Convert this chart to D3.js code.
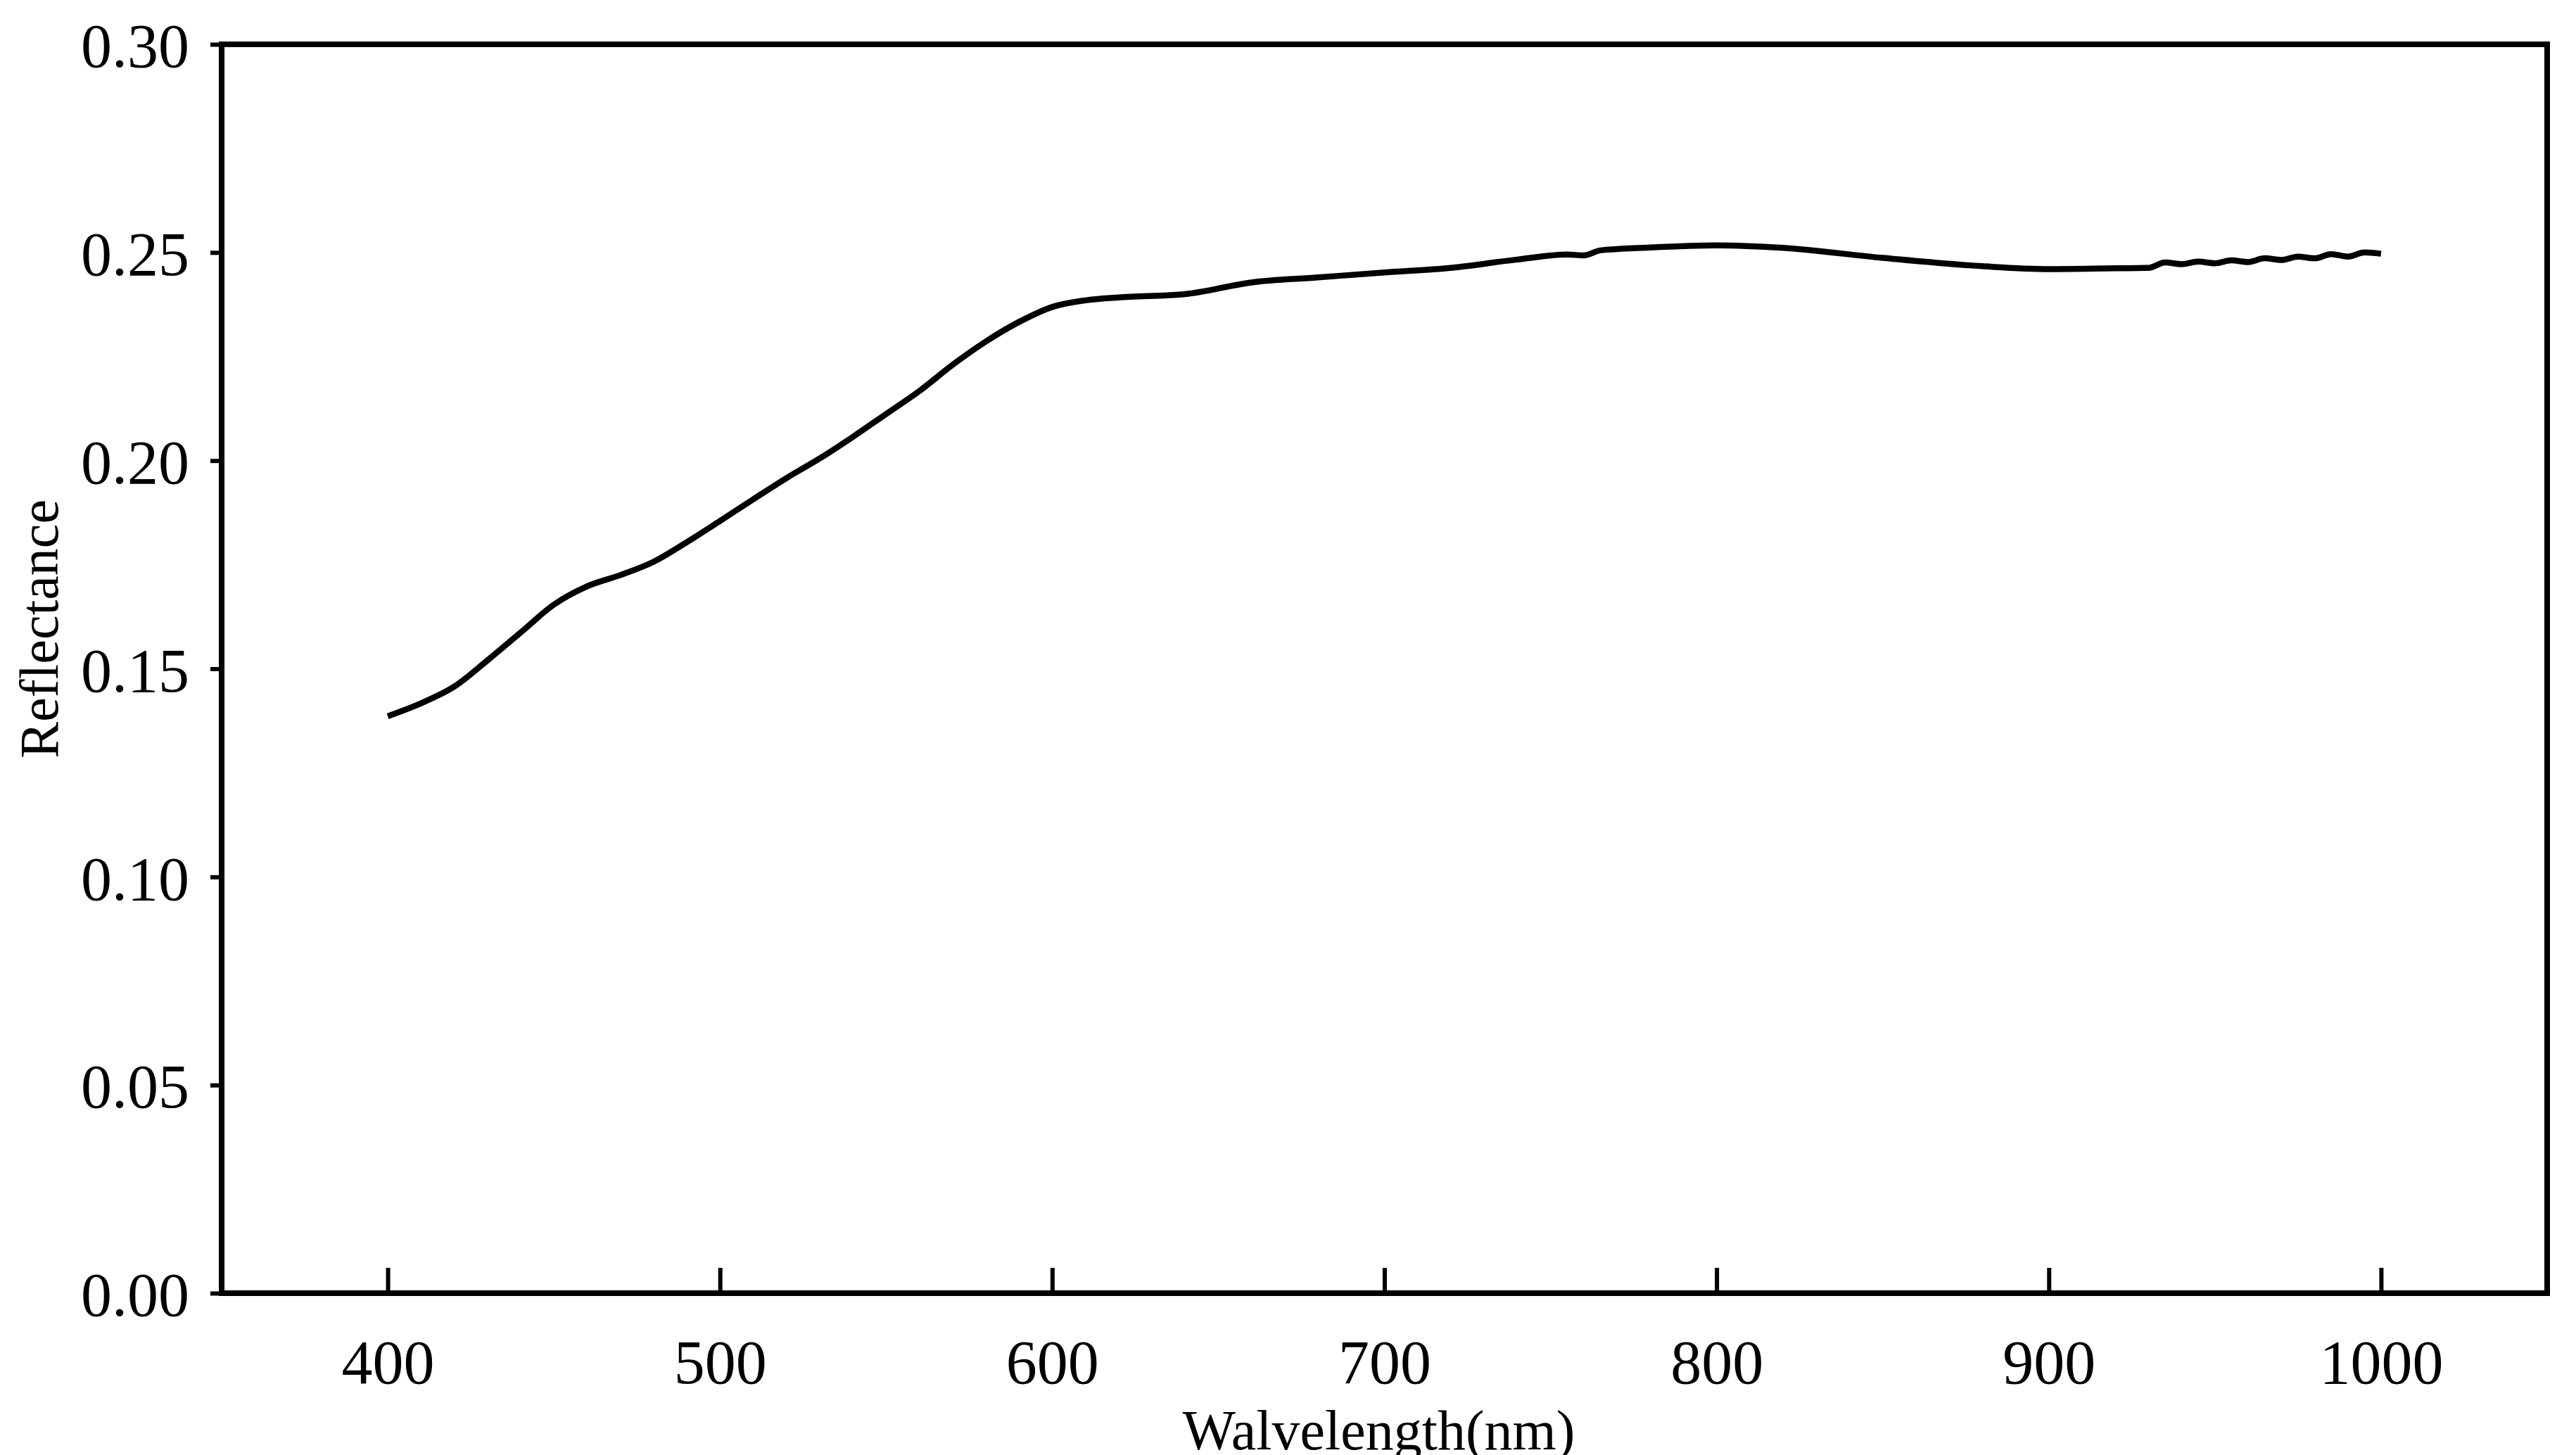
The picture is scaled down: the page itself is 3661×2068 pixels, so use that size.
<!DOCTYPE html>
<html><head><meta charset="utf-8">
<script src="https://cdn.jsdelivr.net/npm/d3@7"></script>
<style>body{margin:0;background:#fff}text{font-family:"Liberation Serif","Times New Roman",serif}</style>
</head><body>
<svg id="chart" width="3661" height="2068"></svg>
<script>
// spectrum
var wavelength = [400,410,420,430,440,450,460,470,480,490,500,510,520,530,540,550,560,570,580,590,600,610,620,640,660,680,700,720,740,755,760,765,780,800,820,850,880,900,920,930,935,940,945,950,955,960,965,970,975,980,985,990,995,1000];
var reflectance = [0.1386,0.1417,0.1457,0.152,0.1587,0.1654,0.1698,0.1725,0.1757,0.1804,0.1855,0.1907,0.1958,0.2005,0.2057,0.2112,0.2167,0.223,0.2286,0.2333,0.2369,0.2385,0.2392,0.2400,0.2428,0.2440,0.2452,0.2463,0.2483,0.2495,0.2493,0.2505,0.2512,0.2517,0.2511,0.2487,0.2467,0.2460,0.2462,0.2463,0.2476,0.2472,0.2478,0.2474,0.2481,0.2477,0.2486,0.2482,0.2490,0.2486,0.2496,0.2490,0.2500,0.2497];
var xTicks = [400,500,600,700,800,900,1000];
var yTicks = [0,0.05,0.10,0.15,0.20,0.25,0.30];

var L = 315, R = 3620, T = 63, B = 1838;
var svg = d3.select('#chart');
var x = d3.scaleLinear().domain([350,1050]).range([L,R]);
var y = d3.scaleLinear().domain([0,0.30]).range([B,T]);

var xAxis = svg.append('g').attr('transform','translate(0,'+B+')')
  .call(d3.axisBottom(x).tickValues(xTicks).tickSizeInner(-36).tickSizeOuter(0).tickPadding(66).tickFormat(d3.format('d')));
var yAxis = svg.append('g').attr('transform','translate('+L+',0)')
  .call(d3.axisLeft(y).tickValues(yTicks).tickSizeInner(16).tickSizeOuter(0).tickPadding(30).tickFormat(d3.format('.2f')));
[xAxis,yAxis].forEach(function(a){
  a.select('.domain').remove();
  a.selectAll('line').attr('stroke','#000').attr('stroke-width',6);
  a.selectAll('text').attr('font-size',88).attr('fill','#000');
});
xAxis.selectAll('text').attr('dy','0.71em');
yAxis.selectAll('text').attr('dy','0.36em');

svg.append('rect').attr('x',L).attr('y',T).attr('width',R-L).attr('height',B-T)
  .attr('fill','none').attr('stroke','#000').attr('stroke-width',8);

var line = d3.line().x(function(d,i){return x(wavelength[i]);}).y(function(d){return y(d);}).curve(d3.curveMonotoneX);
svg.append('path').datum(reflectance).attr('d',line)
  .attr('fill','none').attr('stroke','#000').attr('stroke-width',8.5).attr('stroke-linejoin','round');

svg.append('text').attr('x',(L+R)/2 - 8).attr('y',2060).attr('text-anchor','middle')
  .attr('font-size',80).text('Walvelength(nm)');
svg.append('text').attr('transform','translate(82,894) rotate(-90)')
  .attr('text-anchor','middle').attr('font-size',78).text('Reflectance');
</script>
</body></html>
